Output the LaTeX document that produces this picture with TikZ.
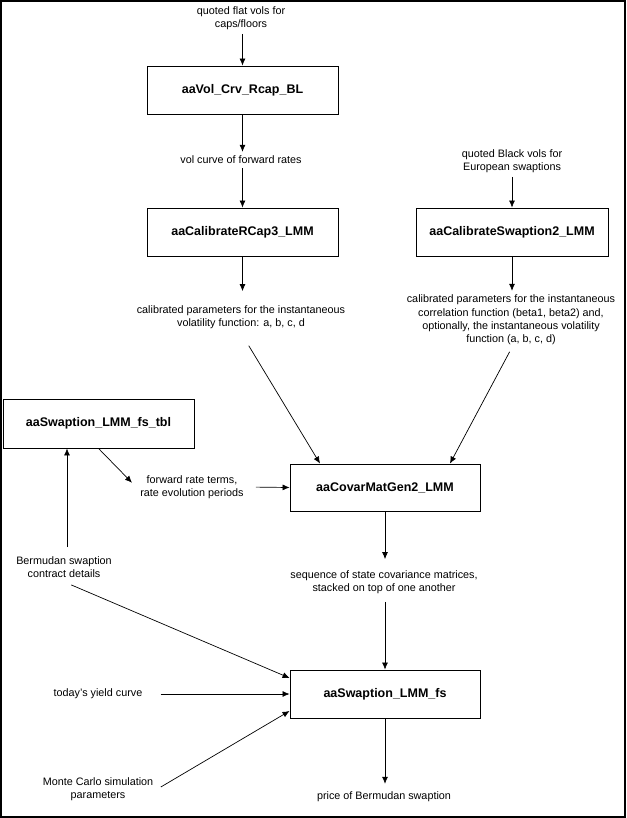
\documentclass[tikz,border=0pt]{standalone}
\usepackage{fontspec}
\setmainfont{Liberation Sans}
\usepackage{tikz}
\usetikzlibrary{arrows.meta}

\tikzset{
  fnbox/.style={draw, line width=0.9pt, minimum width=191pt, minimum height=48pt, inner sep=0pt,
    font=\fontsize{12.5}{15}\selectfont\bfseries},
  info/.style={align=center, inner sep=4pt, font=\fontsize{10.8}{13.3}\selectfont},
  flow/.style={line width=0.7pt, -{Latex[length=7pt,width=6pt]}}
}

\begin{document}
\begin{tikzpicture}[x=1pt, y=-1pt]
  \useasboundingbox (0,0) rectangle (626,818);
  \draw[line width=2pt] (1,1) rectangle (625,817);

  % functions
  \node[fnbox] (vol)   at (242.5,90)  {aaVol\_Crv\_Rcap\_BL};
  \node[fnbox] (rcap)  at (242.5,232) {aaCalibrateRCap3\_LMM};
  \node[fnbox, minimum width=192pt] (swpt) at (512,232) {aaCalibrateSwaption2\_LMM};
  \node[fnbox, minimum height=49pt] (tbl)  at (98.5,423.5) {aaSwaption\_LMM\_fs\_tbl};
  \node[fnbox, minimum width=190pt, minimum height=47pt] (covar) at (385,487.5) {aaCovarMatGen2\_LMM};
  \node[fnbox, minimum width=190pt] (fs)    at (385,694) {aaSwaption\_LMM\_fs};

  % inputs and outputs
  \node[info] (flat)   at (241,18)  {quoted flat vols for\\caps/floors};
  \node[info] (volcrv) at (241,160) {vol curve of forward rates};
  \node[info] (black)  at (512,161) {quoted Black vols for\\European swaptions};
  \node[info] (calpar) at (241,317) {calibrated parameters for the instantaneous\\volatility function: a, b, c, d};
  \node[info] (corpar) at (511,320) {calibrated parameters for the instantaneous\\correlation function (beta1, beta2) and,\\optionally, the instantaneous volatility\\function (a, b, c, d)};
  \node[info] (fwd)    at (192,487) {forward rate terms,\\rate evolution periods};
  \node[info] (berm)   at (64,567)  {Bermudan swaption\\contract details};
  \node[info] (seq)    at (384,582) {sequence of state covariance matrices,\\stacked on top of one another};
  \node[info] (yld)    at (98,694)  {today's yield curve};
  \node[info] (mc)     at (98,789)  {Monte Carlo simulation\\parameters};
  \node[info] (price)  at (384,797) {price of Bermudan swaption};

  \draw[flow] (flat.south -| vol.north) -- (vol.north);
  \draw[flow] (vol.south) -- (vol.south |- volcrv.north);
  \draw[flow] (volcrv.south -| rcap.north) -- (rcap.north);
  \draw[flow] (black.south) -- (swpt.north);
  \draw[flow, shorten >=10pt] (rcap.south) -- (rcap.south |- calpar.north);
  \draw[flow] (swpt.south) -- (swpt.south |- corpar.north);
  \draw[flow, shorten <=15pt] (calpar.south) -- ([xshift=-65pt]covar.north);
  \draw[flow, shorten <=3pt] (corpar.south) -- ([xshift=65pt]covar.north);
  \draw[flow, shorten >=6pt] (tbl.south) -- (fwd.west);
  \draw[flow, shorten <=8pt] (fwd.east) -- (covar.west);
  \draw[flow, shorten <=5pt] ([xshift=3pt]berm.north) -- ([xshift=3pt]berm.north |- tbl.south);
  \draw[flow, shorten <=8pt] (berm.south) -- ([yshift=16pt]fs.west);
  \draw[flow, shorten <=14pt] (yld.east) -- (fs.west);
  \draw[flow, shorten <=4pt] (mc.east) -- ([yshift=-17pt]fs.west);
  \draw[flow, shorten >=7pt] (covar.south) -- (covar.south |- seq.north);
  \draw[flow, shorten <=4pt] (seq.south -| fs.north) -- (fs.north);
  \draw[flow, shorten >=4pt] (fs.south) -- (fs.south |- price.north);
\end{tikzpicture}
\end{document}
